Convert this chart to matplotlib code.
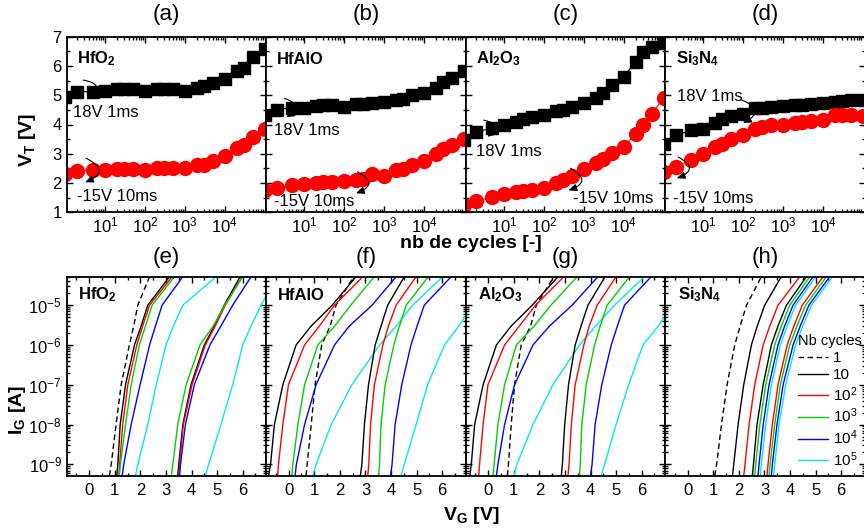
import matplotlib.pyplot as plt
import numpy as np
from matplotlib.lines import Line2D
from matplotlib.ticker import FixedLocator, LogLocator, MultipleLocator, NullFormatter

plt.rcParams["font.family"] = "Liberation Sans"
plt.rcParams["mathtext.fontset"] = "custom"
plt.rcParams["mathtext.rm"] = "Liberation Sans"
plt.rcParams["mathtext.it"] = "Liberation Sans:italic"
plt.rcParams["mathtext.bf"] = "Liberation Sans:bold"

# ---- data: threshold voltage vs number of cycles (top row) ----
CYCLES = [1, 2, 5, 10, 20, 30, 50, 100, 200, 300, 500,
          1e3, 2e3, 3e3, 5e3, 1e4, 2e4, 3e4, 5e4, 1e5]

HFO2_PROG = [4.95, 5.12, 5.12, 5.15, 5.2, 5.2, 5.22, 5.15, 5.2, 5.22, 5.23,
             5.15, 5.26, 5.3, 5.42, 5.57, 5.84, 5.92, 6.3, 6.57]
HFO2_ERASE = [2.30, 2.41, 2.45, 2.45, 2.49, 2.49, 2.49, 2.43, 2.5, 2.5, 2.5,
              2.52, 2.6, 2.63, 2.75, 2.91, 3.18, 3.29, 3.58, 3.86]
HFALO_PROG = [4.32, 4.51, 4.58, 4.58, 4.63, 4.65, 4.68, 4.6, 4.7, 4.7, 4.72,
              4.76, 4.83, 4.88, 5.0, 5.06, 5.26, 5.44, 5.6, 5.82]
HFALO_ERASE = [1.75, 1.83, 1.92, 1.98, 2.0, 2.02, 2.05, 2.07, 2.12, 2.15, 2.3,
               2.25, 2.43, 2.49, 2.6, 2.75, 3.0, 3.15, 3.31, 3.52]
AL2O3_PROG = [3.46, 3.75, 3.87, 3.98, 4.09, 4.2, 4.26, 4.32, 4.45, 4.5, 4.6,
              4.72, 4.89, 5.06, 5.34, 5.63, 6.14, 6.49, 6.65, 6.8]
AL2O3_ERASE = [1.24, 1.38, 1.52, 1.63, 1.69, 1.73, 1.75, 1.84, 2.0, 2.09, 2.23,
               2.49, 2.68, 2.83, 3.03, 3.23, 3.69, 3.97, 4.37, 4.89]
SI3N4_PROG = [3.35, 3.63, 3.8, 3.86, 4.05, 4.2, 4.28, 4.37, 4.55, 4.58, 4.6,
              4.63, 4.66, 4.68, 4.7, 4.72, 4.77, 4.8, 4.83, 4.85]
SI3N4_ERASE = [2.38, 2.55, 2.8, 2.98, 3.23, 3.35, 3.52, 3.63, 3.86, 3.92, 3.97,
               4.0, 4.05, 4.09, 4.12, 4.17, 4.32, 4.32, 4.32, 4.28]

MATERIALS = ["HfO$_\\mathbf{2}$", "HfAlO", "Al$_\\mathbf{2}$O$_\\mathbf{3}$",
             "Si$_\\mathbf{3}$N$_\\mathbf{4}$"]
TOP_TITLES = ["(a)", "(b)", "(c)", "(d)"]
BOT_TITLES = ["(e)", "(f)", "(g)", "(h)"]

# ---- data: gate current vs gate voltage (bottom row) ----
# VG read at each IG level, one list per curve
IG_LEVELS = [5.2e-10, 1e-9, 1e-8, 1e-7, 1e-6, 3e-6, 1e-5, 5.2e-5]
NB_LABELS = ["1", "10", "10$^2$", "10$^3$", "10$^4$", "10$^5$"]

E_FIRST = [0.79, 0.86, 1.05, 1.25, 1.57, 1.74, 1.90, 2.36]
E_LOW = [
    [1.08, 1.12, 1.21, 1.42, 1.77, 2.03, 2.29, 3.14],
    [1.16, 1.19, 1.31, 1.51, 1.86, 2.09, 2.36, 3.24],
    [1.18, 1.22, 1.42, 1.64, 1.96, 2.20, 2.46, 3.33],
    [1.29, 1.35, 1.64, 1.99, 2.36, 2.59, 2.85, 3.66],
    [1.81, 1.90, 2.29, 2.62, 3.00, 3.29, 3.66, 4.96],
]
E_HIGH = [
    [3.46, 3.50, 3.66, 3.98, 4.50, 4.89, 5.28, 5.90],
    [3.50, 3.53, 3.68, 4.02, 4.54, 4.93, 5.32, 5.98],
    [3.21, 3.27, 3.46, 3.79, 4.33, 4.85, 5.30, 6.00],
    [3.53, 3.57, 3.76, 4.11, 4.72, 5.15, 5.61, 6.33],
    [4.54, 4.67, 5.15, 5.61, 6.00, 6.33, 6.72, 7.30],
]

F_FIRST = [0.68, 0.72, 0.88, 1.03, 1.29, 1.62, 1.85, 2.54]
F_LOW = [
    [-0.79, -0.71, -0.56, -0.23, 0.29, 0.88, 1.70, 2.63],
    [-0.43, -0.40, -0.23, -0.01, 0.62, 1.20, 1.79, 2.90],
    [0.12, 0.16, 0.36, 0.62, 1.14, 1.80, 2.42, 3.35],
    [0.25, 0.30, 0.62, 1.07, 1.79, 2.37, 3.26, 4.20],
    [0.94, 1.07, 1.66, 2.47, 3.55, 4.20, 4.85, 6.02],
]
F_HIGH = [
    [2.80, 2.86, 2.96, 3.12, 3.38, 3.61, 3.87, 4.52],
    [3.09, 3.13, 3.20, 3.35, 3.68, 3.90, 4.20, 4.98],
    [3.51, 3.55, 3.61, 3.77, 4.11, 4.33, 4.59, 5.46],
    [3.98, 4.04, 4.16, 4.42, 4.78, 5.02, 5.30, 6.35],
    [4.39, 4.52, 4.98, 5.43, 6.09, 6.65, 7.20, 7.90],
]

G_FIRST = [0.75, 0.79, 0.90, 1.03, 1.29, 1.66, 1.88, 2.57]
G_LOW = [
    [-0.72, -0.66, -0.53, -0.20, 0.32, 0.90, 1.72, 2.73],
    [-0.37, -0.34, -0.20, -0.01, 0.64, 1.22, 1.85, 2.96],
    [0.19, 0.23, 0.38, 0.64, 1.10, 1.80, 2.45, 3.48],
    [0.32, 0.38, 0.64, 1.03, 1.75, 2.40, 3.28, 4.29],
    [1.01, 1.12, 1.75, 2.53, 3.57, 4.20, 4.94, 6.11],
]
G_HIGH = [
    [2.86, 2.90, 2.99, 3.14, 3.40, 3.63, 3.90, 4.57],
    [3.12, 3.16, 3.25, 3.40, 3.74, 3.95, 4.26, 5.00],
    [3.57, 3.60, 3.66, 3.83, 4.16, 4.38, 4.65, 5.53],
    [4.00, 4.06, 4.18, 4.44, 4.81, 5.05, 5.33, 6.37],
    [4.42, 4.55, 5.00, 5.49, 6.05, 6.65, 7.20, 7.90],
]

H_FIRST = [1.06, 1.13, 1.32, 1.54, 1.84, 2.05, 2.30, 2.88]
H_LOW = [
    [1.75, 1.80, 1.97, 2.19, 2.49, 2.72, 3.01, 3.66],
    [2.19, 2.24, 2.40, 2.62, 2.95, 3.21, 3.53, 4.38],
    [2.62, 2.66, 2.82, 3.05, 3.40, 3.66, 3.99, 4.77],
    [2.75, 2.79, 2.95, 3.18, 3.53, 3.79, 4.12, 4.90],
    [2.84, 2.88, 3.05, 3.27, 3.62, 3.89, 4.22, 5.00],
]
H_HIGH = [
    [2.53, 2.57, 2.71, 2.95, 3.27, 3.53, 3.86, 4.64],
    [3.10, 3.14, 3.31, 3.53, 3.89, 4.15, 4.48, 5.29],
    [3.18, 3.22, 3.40, 3.62, 3.99, 4.27, 4.61, 5.42],
    [3.27, 3.31, 3.49, 3.73, 4.12, 4.40, 4.74, 5.55],
    [3.36, 3.40, 3.57, 3.83, 4.22, 4.50, 4.84, 5.66],
]

NB_COLORS = ["black", "#ff0000", "#00d000", "#0000ff", "#00e8f0"]

W, H = 864, 531
fig = plt.figure(figsize=(W / 100, H / 100), dpi=100)


def add_axes_px(x0, y0, x1, y1):
    return fig.add_axes([x0 / W, 1 - y1 / H, (x1 - x0) / W, (y1 - y0) / H])


def style_axes(ax):
    for sp in ax.spines.values():
        sp.set_linewidth(1.3)
    ax.tick_params(which="both", direction="in", top=True, right=True,
                   labelsize=12, width=1.0)
    ax.tick_params(which="major", length=4.5)
    ax.tick_params(which="minor", length=2.5)


edges = [66.7 + 199.5 * i for i in range(5)]

# ---- top row ----
top_data = [(HFO2_PROG, HFO2_ERASE), (HFALO_PROG, HFALO_ERASE),
            (AL2O3_PROG, AL2O3_ERASE), (SI3N4_PROG, SI3N4_ERASE)]
# text / arrow placement in axes fraction
txt_prog = [(0.032, 0.57), (0.04, 0.468), (0.05, 0.344), (0.06, 0.658)]
txt_erase = [(0.05, 0.091), (0.04, 0.059), (0.54, 0.08), (0.04, 0.08)]
arr_prog = [((0.082, 0.753), (0.108, 0.645)), ((0.092, 0.649), (0.10, 0.542)),
            ((0.09, 0.525), (0.109, 0.43)), ((0.384, 0.639), (0.39, 0.508))]
arr_erase = [((0.097, 0.308), (0.092, 0.171)), ((0.457, 0.23), (0.45, 0.108)),
             ((0.525, 0.251), (0.515, 0.125)), ((0.065, 0.315), (0.058, 0.194))]

for i, (prog, erase) in enumerate(top_data):
    ax = add_axes_px(edges[i], 36.7, edges[i + 1], 212.3)
    style_axes(ax)
    ax.plot(CYCLES, prog, marker="s", ms=8.6, color="black", lw=0.8)
    ax.plot(CYCLES, erase, marker="o", ms=10, color="#ff0000", lw=0.8)
    ax.set_xscale("log")
    ax.set_xlim(1.1, 1.1e5)
    ax.set_ylim(1, 7)
    ax.xaxis.set_major_locator(FixedLocator([10, 100, 1e3, 1e4]))
    ax.xaxis.set_minor_locator(LogLocator(base=10, subs=np.arange(2, 10), numticks=20))
    ax.xaxis.set_minor_formatter(NullFormatter())
    ax.yaxis.set_major_locator(MultipleLocator(1))
    ax.yaxis.set_minor_locator(MultipleLocator(0.5))
    ax.tick_params(axis="x", pad=2)
    ax.tick_params(axis="y", pad=3.5, labelleft=(i == 0))
    ax.text(0.052, 0.873, MATERIALS[i], transform=ax.transAxes,
            fontsize=12, fontweight="bold", va="center")
    ax.text(0.5, 1.124, TOP_TITLES[i], transform=ax.transAxes, fontsize=16,
            ha="center", va="center")
    ax.text(*txt_prog[i], "18V 1ms", transform=ax.transAxes, fontsize=12, va="center")
    ax.text(*txt_erase[i], "-15V 10ms", transform=ax.transAxes, fontsize=12, va="center")
    for start, end in (arr_prog[i], arr_erase[i]):
        ax.annotate("", xy=end, xytext=start, xycoords="axes fraction",
                    arrowprops=dict(arrowstyle="-|>,head_length=0.5,head_width=0.22",
                                    connectionstyle="arc3,rad=-1.1", lw=0.8,
                                    color="black", shrinkA=0, shrinkB=0))

# ---- bottom row ----
bot_data = [(E_FIRST, E_LOW, E_HIGH), (F_FIRST, F_LOW, F_HIGH),
            (G_FIRST, G_LOW, G_HIGH), (H_FIRST, H_LOW, H_HIGH)]
mat_x = [0.055, 0.058, 0.062, 0.065]

for i, (first, low, high) in enumerate(bot_data):
    ax = add_axes_px(edges[i], 276.7, edges[i + 1], 475.7)
    style_axes(ax)
    ax.plot(first, IG_LEVELS, color="black", lw=1.0, ls=(0, (4, 2.5)))
    for group in (low, high):
        for vg, col in zip(group, NB_COLORS):
            ax.plot(vg, IG_LEVELS, color=col, lw=1.0)
    ax.set_yscale("log")
    ax.set_ylim(5.2e-10, 5.2e-5)
    ax.set_xlim(-0.88, 6.92)
    ax.xaxis.set_major_locator(MultipleLocator(1))
    ax.xaxis.set_minor_locator(MultipleLocator(0.5))
    ax.yaxis.set_major_locator(FixedLocator([1e-9, 1e-8, 1e-7, 1e-6, 1e-5]))
    ax.yaxis.set_minor_locator(LogLocator(base=10, subs=np.arange(2, 10), numticks=20))
    ax.yaxis.set_minor_formatter(NullFormatter())
    ax.tick_params(axis="x", pad=5)
    ax.tick_params(axis="y", pad=3.5, labelleft=(i == 0))
    ax.text(mat_x[i], 0.908, MATERIALS[i], transform=ax.transAxes,
            fontsize=12, fontweight="bold", va="center")
    ax.text(0.5, 1.094, BOT_TITLES[i], transform=ax.transAxes, fontsize=16,
            ha="center", va="center")
    if i == 3:
        handles = [Line2D([], [], color="black", lw=1.0, ls=(0, (4, 2.5)))]
        handles += [Line2D([], [], color=c, lw=1.0) for c in NB_COLORS]
        ax.legend(handles, NB_LABELS, title="Nb cycles", loc="upper left",
                  bbox_to_anchor=(0.665, 0.712), frameon=False, fontsize=11,
                  title_fontsize=10.5, handlelength=2.0, handletextpad=0.3,
                  labelspacing=0.2, borderpad=0, borderaxespad=0,
                  alignment="left")

# ---- axis labels ----
fig.text(27.5 / W, 1 - 140 / H, "V$_\\mathbf{T}$ [V]", rotation=90, fontsize=14,
         fontweight="bold", ha="center", va="center")
fig.text(18 / W, 1 - 410 / H, "I$_\\mathbf{G}$ [A]", rotation=90, fontsize=14,
         fontweight="bold", ha="center", va="center")
fig.text(471 / W, 1 - 243 / H, "nb de cycles [-]", fontsize=14,
         fontweight="bold", ha="center", va="center")
fig.text(471 / W, 1 - 516 / H, "V$_\\mathbf{G}$ [V]", fontsize=14,
         fontweight="bold", ha="center", va="center")

fig.savefig("out.png", dpi=100)
